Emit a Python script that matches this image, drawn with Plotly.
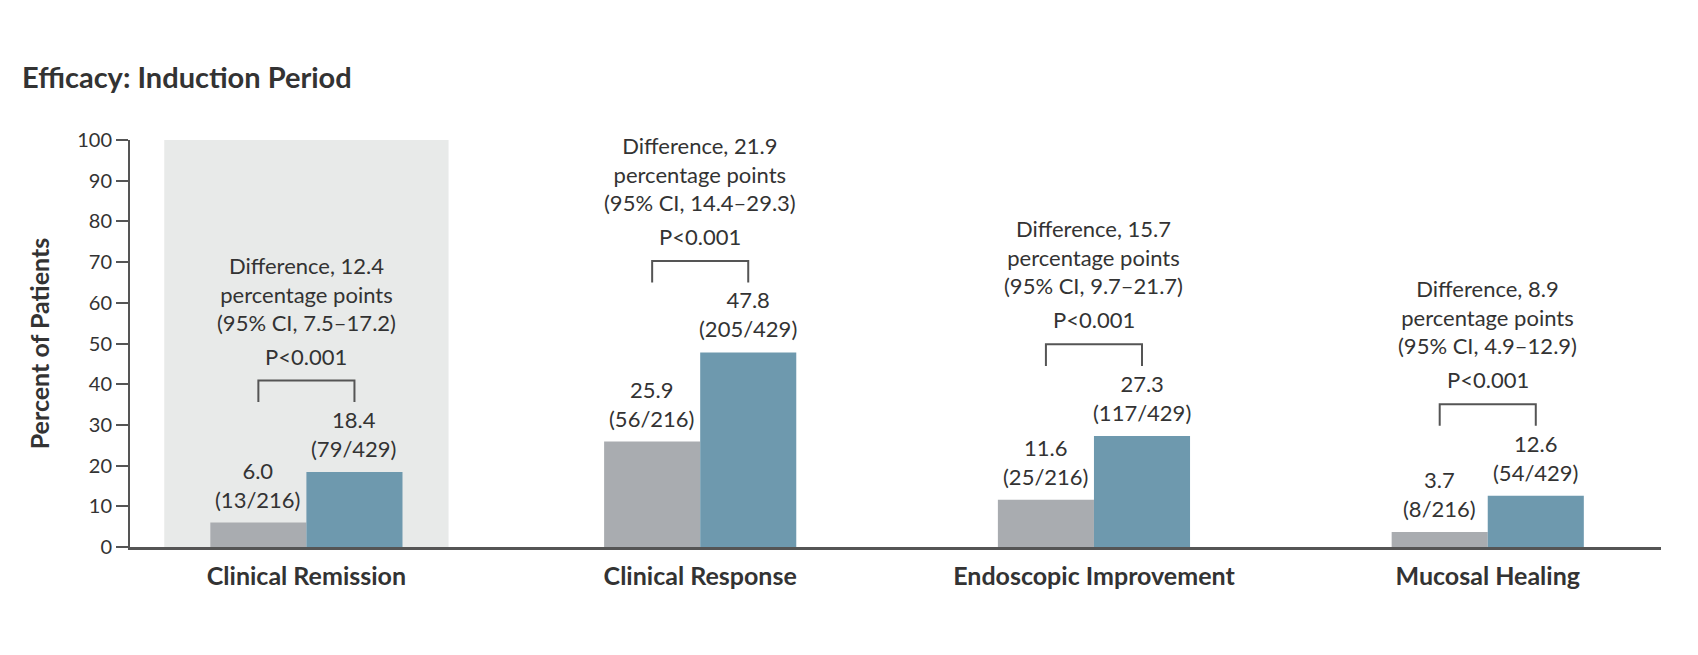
import plotly.graph_objects as go

categories = ["Clinical Remission", "Clinical Response", "Endoscopic Improvement", "Mucosal Healing"]
placebo_values = [6.0, 25.9, 11.6, 3.7]
placebo_counts = ["(13/216)", "(56/216)", "(25/216)", "(8/216)"]
drug_values = [18.4, 47.8, 27.3, 12.6]
drug_counts = ["(79/429)", "(205/429)", "(117/429)", "(54/429)"]
differences = ["12.4", "21.9", "15.7", "8.9"]
ci_texts = ["7.5\u201317.2", "14.4\u201329.3", "9.7\u201321.7", "4.9\u201312.9"]
p_texts = ["P<0.001", "P<0.001", "P<0.001", "P<0.001"]
y_ticks = [0, 10, 20, 30, 40, 50, 60, 70, 80, 90, 100]

FONT = "Lato"
TXT = "#333333"
AX = "#555555"
GRAY = "#A9ACB0"
BLUE = "#6E99AE"
SHADE = "#E8EAE9"

# the page body adds an 8px margin; the figure is sized to fit the window
W, H = 1690, 647

bargap = 0.512
bw = (1 - bargap) / 2
xs = list(range(len(categories)))

fig = go.Figure()
fig.add_trace(go.Bar(x=xs, y=placebo_values, marker=dict(color=GRAY, line=dict(width=0)),
                     hoverinfo="skip", showlegend=False))
fig.add_trace(go.Bar(x=xs, y=drug_values, marker=dict(color=BLUE, line=dict(width=0)),
                     hoverinfo="skip", showlegend=False))

ann = []
shapes = []
shapes.append(dict(type="rect", xref="x", yref="y", x0=xs[0] - 0.361, x1=xs[0] + 0.361,
                   y0=0, y1=100, fillcolor=SHADE, line=dict(width=0), layer="below"))

lab_font = dict(family=FONT, size=22, color=TXT)
for i, x in enumerate(xs):
    xp = x - bw / 2
    xd = x + bw / 2
    ann.append(dict(x=xp, y=placebo_values[i], xref="x", yref="y",
                    text=f"{placebo_values[i]:.1f}<br>{placebo_counts[i]}",
                    showarrow=False, yanchor="bottom", yshift=8, font=lab_font))
    ann.append(dict(x=xd, y=drug_values[i], xref="x", yref="y",
                    text=f"{drug_values[i]:.1f}<br>{drug_counts[i]}",
                    showarrow=False, yanchor="bottom", yshift=8, font=lab_font))
    top = drug_values[i] + 22.5
    leg = drug_values[i] + 17.2
    shapes.append(dict(type="path", xref="x", yref="y",
                       path=f"M {xp} {leg} L {xp} {top} L {xd} {top} L {xd} {leg}",
                       line=dict(color=AX, width=2)))
    ann.append(dict(x=x, y=top, xref="x", yref="y", text=p_texts[i], showarrow=False,
                    yanchor="bottom", yshift=9, font=lab_font))
    ann.append(dict(x=x, y=top, xref="x", yref="y",
                    text=f"Difference, {differences[i]}<br>percentage points<br>(95% CI, {ci_texts[i]})",
                    showarrow=False, yanchor="bottom", yshift=43, font=lab_font))

fig.update_layout(
    width=W, height=H,
    margin=dict(l=122, r=37, t=132, b=108, pad=0),
    paper_bgcolor="white", plot_bgcolor="white",
    barmode="group", bargap=bargap, bargroupgap=0,
    title=dict(text="<b>Efficacy: Induction Period</b>", xref="container", x=14 / W,
               xanchor="left", yref="container", y=1 - 69.5 / H, yanchor="middle",
               font=dict(family=FONT, size=29, color=TXT)),
    xaxis=dict(range=[-0.448, 3.44], tickmode="array", tickvals=xs,
               ticktext=[f"<b>{c}</b>" for c in categories],
               tickfont=dict(family=FONT, size=25, color=TXT),
               showline=True, linecolor=AX, linewidth=2.5, ticks="", showgrid=False,
               zeroline=False, ticklabelstandoff=5, fixedrange=True),
    yaxis=dict(range=[0, 100], tickmode="array", tickvals=y_ticks,
               tickfont=dict(family=FONT, size=20, color=TXT),
               showline=True, linecolor=AX, linewidth=2, ticks="outside", ticklen=12,
               tickwidth=2, tickcolor=AX, showgrid=False, zeroline=False,
               title=dict(text="<b>Percent of Patients</b>", standoff=20,
                          font=dict(family=FONT, size=25, color=TXT)),
               fixedrange=True),
    annotations=ann, shapes=shapes,
)

fig.write_html("out.html")
